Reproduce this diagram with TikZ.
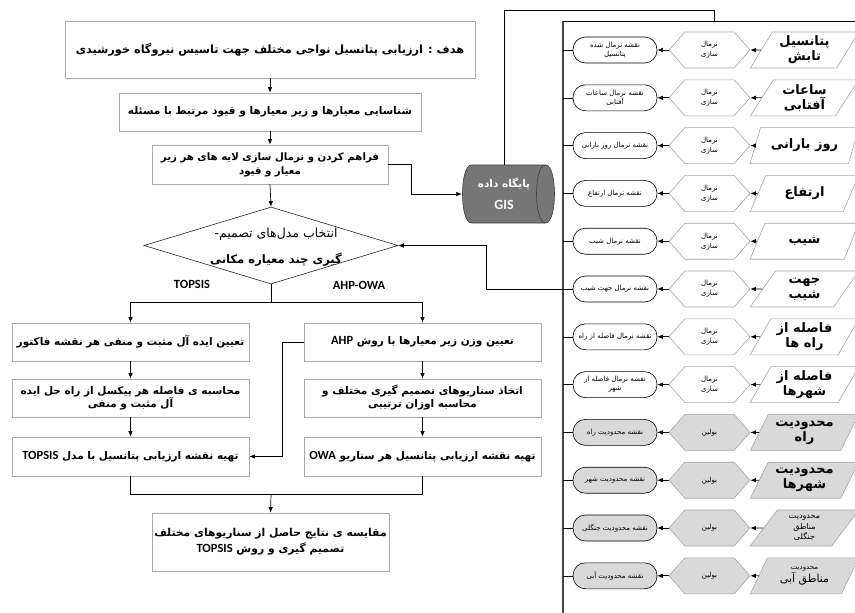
\documentclass[tikz,border=0pt]{standalone}
\usepackage{fontspec}
\usetikzlibrary{arrows.meta,shapes.geometric,shapes.symbols}
\TeXXeTstate=1
\newfontfamily\arabicfont[Script=Arabic]{DejaVu Sans}
\newfontfamily\latinfont{Carlito}
\newcommand\fa[1]{{\arabicfont\beginR #1\endR}}
\newcommand\la[1]{\beginL{\latinfont\bfseries #1}\endL}
\definecolor{boxgray}{RGB}{165,170,176}
\definecolor{hexgray}{RGB}{165,165,165}
\definecolor{lightfill}{RGB}{217,217,217}
\definecolor{cylfill}{RGB}{118,118,118}
\definecolor{cyldraw}{RGB}{60,60,60}
\definecolor{panelline}{RGB}{70,70,70}
\newcommand\panelrow[7]{%
  \node[para, fill=#3, #4] (p#1) at (804.5,#2) {#5};
  \node[hexa, fill=#3] (h#1) at (709.5,#2) {#6};
  \node[oval, fill=#3] (o#1) at (615,#2) {#7};
  \coordinate (b#1) at (563,#2);
  \draw[arr] (p#1.west) -- (h#1.east);
  \draw[arr] (h#1.west) -- (o#1.east);
  \draw (o#1.west) -- (b#1);
}
\begin{document}
\begin{tikzpicture}[x=1pt,y=-1pt,
  box/.style={draw=boxgray, line width=0.8pt, fill=white, align=center, inner sep=2pt},
  arr/.style={-{Latex[length=5.5pt,width=4.5pt]}, line width=0.7pt},
  line/.style={line width=0.7pt},
  para/.style={trapezium, trapezium left angle=58.6, trapezium right angle=121.4,
     trapezium stretches=true, minimum width=109pt, minimum height=36pt,
     draw=hexgray, line width=0.6pt, align=center, inner sep=0pt,
     font=\fontsize{13}{15}\selectfont\bfseries},
  hexa/.style={signal, signal to=east and west, signal pointer angle=97,
     minimum width=81pt, minimum height=36pt, draw=hexgray, line width=0.6pt,
     align=center, inner sep=1pt, font=\fontsize{7}{10}\selectfont},
  oval/.style={draw=black, line width=0.6pt, rounded corners=12.5pt,
     minimum width=84pt, minimum height=26pt, inner sep=1pt, align=center,
     font=\fontsize{7}{9}\selectfont},
  mid/.style={font=\fontsize{10.5}{13}\selectfont\bfseries}
]
\fill[white] (0,0) rectangle (855,613);
\useasboundingbox (0,0) rectangle (855,613);

% ---------- main flow ----------
\node[box, minimum width=410pt, minimum height=57pt, font=\fontsize{11.3}{15}\selectfont\bfseries] (g1) at (270,49.5)
  {\fa{هدف : ارزیابی پتانسیل نواحی مختلف جهت تاسیس نیروگاه خورشیدی}};
\node[box, minimum width=302pt, minimum height=38pt, font=\fontsize{10.6}{14}\selectfont\bfseries] (g2) at (270,112)
  {\fa{شناسایی معیارها و زیر معیارها  و قیود مرتبط با مسئله}};
\node[box, minimum width=236pt, minimum height=39pt, font=\fontsize{10.2}{14}\selectfont\bfseries] (g3) at (270,164.5)
  {\fa{فراهم کردن و نرمال سازی لایه های هر زیر}\\\fa{معیار و قیود}};

\node[diamond, draw=black!85, line width=0.6pt, minimum width=254pt, minimum height=77pt, inner sep=0pt] (dia) at (271,245.5) {};
\node[align=center, inner sep=0pt] (diat) at (276,247)
  {\fa{\fontsize{12.5}{14}\selectfont انتخاب مدل‌های تصمیم-}\\[11pt]\fa{\fontsize{11.6}{14}\selectfont\bfseries گیری چند معیاره مکانی}};

\node[font=\fontsize{12.5}{14}\selectfont] (ltop) at (192,284) {\la{TOPSIS}};
\node[font=\fontsize{12.5}{14}\selectfont] (lahp) at (359,285) {\la{AHP-OWA}};

% cylinder (GIS database), drawn as a horizontal drum
\filldraw[fill=cylfill, draw=cyldraw, line width=0.6pt]
  (471.5,165) -- (545.5,165) .. controls (557.5,165) and (557.5,223) .. (545.5,223)
  -- (471.5,223) .. controls (459.5,223) and (459.5,165) .. (471.5,165) -- cycle;
\draw[cyldraw, line width=0.6pt] (545.5,165) .. controls (533.5,165) and (533.5,223) .. (545.5,223);
\node[minimum width=93pt, minimum height=58pt, inner sep=0pt] (cyl) at (508.5,194) {};
\node[inner sep=0pt, text=white, font=\fontsize{10.5}{13}\selectfont\bfseries] (cylt1) at (504,184) {\fa{پایگاه داده}};
\node[inner sep=0pt, text=white, font=\fontsize{14}{15}\selectfont] (cylt2) at (504,205) {\la{GIS}};

\node[box, minimum width=237pt, minimum height=38pt, mid] (L1) at (130.5,342)
  {\fa{تعیین ایده آل مثبت و منفی هر نقشه فاکتور}};
\node[box, minimum width=237pt, minimum height=38pt, mid] (L2) at (130.5,398)
  {\fa{محاسبه ی  فاصله هر پیکسل از راه حل ایده}\\\fa{آل مثبت و منفی}};
\node[box, minimum width=237pt, minimum height=39pt, mid] (L3) at (130.5,456.5)
  {\fa{تهیه نقشه ارزیابی پتانسیل  با مدل  {\fontsize{12.5}{13}\selectfont\la{TOPSIS}}}};

\node[box, minimum width=237pt, minimum height=38pt, mid] (R1) at (422.5,342)
  {\fa{تعیین وزن زیر معیارها با روش {\fontsize{12.5}{13}\selectfont\la{AHP}}}};
\node[box, minimum width=237pt, minimum height=38pt, mid] (R2) at (422.5,398)
  {\fa{اتخاذ سناریوهای تصمیم گیری مختلف و}\\\fa{محاسبه اوزان ترتیبی}};
\node[box, minimum width=237pt, minimum height=39pt, mid] (R3) at (422.5,456.5)
  {\fa{تهیه نقشه ارزیابی پتانسیل هر سناریو {\fontsize{12.5}{13}\selectfont\la{OWA}}}};

\node[box, minimum width=237pt, minimum height=58pt, font=\fontsize{10.8}{16}\selectfont\bfseries] (fin) at (270.5,542)
  {\fa{مقایسه ی نتایج حاصل از سناریوهای مختلف}\\\fa{تصمیم گیری و روش {\fontsize{12.5}{13}\selectfont\la{TOPSIS}}}};

% connectors of main flow
\draw[arr] (g1.south) -- (g2.north);
\draw[arr] (g2.south) -- (g3.north);
\draw[arr] (g3.south) -- (dia.north);
\draw[arr] (g3.east) -- ++(23,0) |- (cyl.west);
\coordinate (split) at (271,302);
\draw[line] (dia.south) -- (split);
\draw[arr] (split) -| (L1.north);
\draw[arr] (split) -| (R1.north);
\draw[arr] (L1.south) -- (L2.north);
\draw[arr] (L2.south) -- (L3.north);
\draw[arr] (R1.south) -- (R2.north);
\draw[arr] (R2.south) -- (R3.north);
\draw[arr] (R1.west) -- ++(-21,0) |- (L3.east);
\coordinate (merge) at (271,494);
\draw[line] (L3.south) |- (merge);
\draw[line] (R3.south) |- (merge);
\draw[arr] (merge) -- (fin.north);

% ---------- right panel ----------
\coordinate (pTL) at (563,21);
\coordinate (pBL) at (563,613);
\coordinate (pTR) at (855,21);
\coordinate (ptop) at (714,21);
\draw[panelline, line width=1.4pt] (pBL) -- (pTL);
\draw[line] (pTL) -- (pTR);
\draw[line] ([xshift=-4.5pt]cyl.north) -- ++(0,-154) -| (ptop);

\panelrow{1}{50}{white}{}{\fa{پتانسیل}\\\fa{تابش}}{\fa{نرمال}\\\fa{سازی}}{\fa{نقشه نرمال شده}\\\fa{پتانسیل}}
\panelrow{2}{97.8}{white}{}{\fa{ساعات}\\\fa{آفتابی}}{\fa{نرمال}\\\fa{سازی}}{\fa{نقشه نرمال ساعات}\\\fa{آفتابی}}
\panelrow{3}{145.6}{white}{}{\fa{روز بارانی}}{\fa{نرمال}\\\fa{سازی}}{\fa{نقشه نرمال روز بارانی}}
\panelrow{4}{193.4}{white}{}{\fa{ارتفاع}}{\fa{نرمال}\\\fa{سازی}}{\fa{نقشه نرمال ارتفاع}}
\panelrow{5}{241.2}{white}{}{\fa{شیب}}{\fa{نرمال}\\\fa{سازی}}{\fa{نقشه نرمال شیب}}
\panelrow{6}{289}{white}{}{\fa{جهت}\\\fa{شیب}}{\fa{نرمال}\\\fa{سازی}}{\fa{نقشه نرمال جهت شیب}}
\panelrow{7}{336.8}{white}{}{\fa{فاصله از}\\\fa{راه ها}}{\fa{نرمال}\\\fa{سازی}}{\fa{نقشه نرمال فاصله از راه}}
\panelrow{8}{384.6}{white}{}{\fa{فاصله از}\\\fa{شهرها}}{\fa{نرمال}\\\fa{سازی}}{\fa{نقشه نرمال فاصله از}\\\fa{شهر}}
\panelrow{9}{432.4}{lightfill}{}{\fa{محدودیت}\\\fa{راه}}{\fa{بولین}}{\fa{نقشه محدودیت راه}}
\panelrow{10}{480.2}{lightfill}{}{\fa{محدودیت}\\\fa{شهرها}}{\fa{بولین}}{\fa{نقشه محدودیت شهر}}
\panelrow{11}{528}{lightfill}{font=\fontsize{8}{10.5}\selectfont}{\fa{محدودیت}\\\fa{مناطق}\\\fa{جنگلی}}{\fa{بولین}}{\fa{نقشه محدودیت جنگلی}}
\panelrow{12}{575.8}{lightfill}{font=\fontsize{11}{13}\selectfont}{\fa{\fontsize{7}{9}\selectfont محدودیت}\\\fa{مناطق آبی}}{\fa{بولین}}{\fa{نقشه محدودیت آبی}}

% return connector to decision diamond
\draw[arr] (o6.west) -- ++(-86,0) |- (dia.east);
\end{tikzpicture}
\end{document}
